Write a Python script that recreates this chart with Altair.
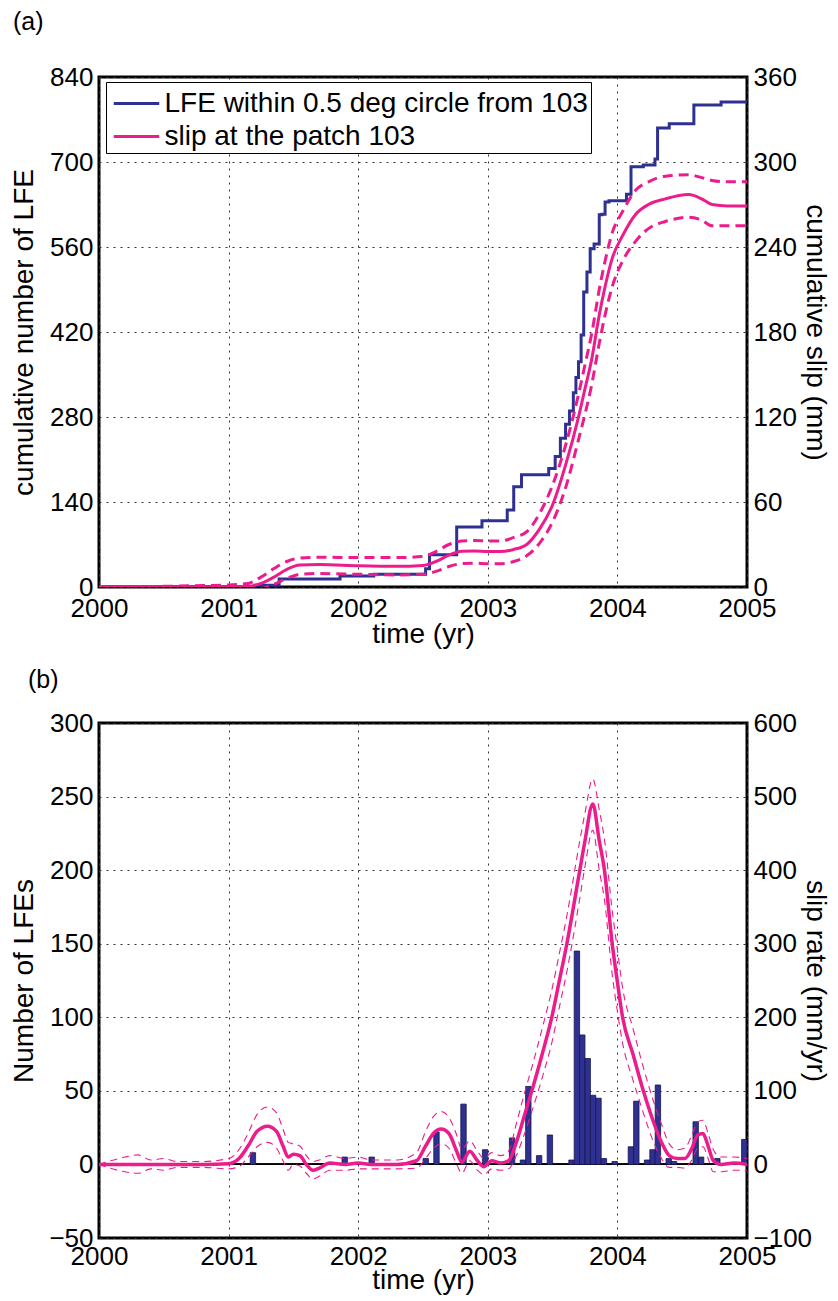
import altair as alt
import pandas as pd

BLUE = "#2E3192"
PINK = "#EC1C8C"
FONT = "Liberation Sans"

years = [2000, 2001, 2002, 2003, 2004, 2005]
ticks_a_left = [0, 140, 280, 420, 560, 700, 840]
ticks_a_right = [0, 60, 120, 180, 240, 300, 360]
ticks_b_left = [-50, 0, 50, 100, 150, 200, 250, 300]
ticks_b_right = [-100, 0, 100, 200, 300, 400, 500, 600]

LEG_LFE = "LFE within 0.5 deg circle from 103"
LEG_SLIP = "slip at the patch 103"

# ---- panel (a): cumulative LFE count (step) ----
lfe_t = [2000.0, 2001.20, 2001.39, 2001.86, 2002.12, 2002.52, 2002.55, 2002.76, 2002.955,
         2003.15, 2003.20, 2003.26, 2003.47, 2003.52, 2003.56, 2003.60, 2003.63, 2003.66,
         2003.68, 2003.70, 2003.72, 2003.74, 2003.765, 2003.79, 2003.82, 2003.86, 2003.88,
         2003.905, 2003.935, 2004.07, 2004.105, 2004.20, 2004.29, 2004.31, 2004.40, 2004.59,
         2004.80, 2005.0]
lfe_n = [0, 3, 13, 18, 21, 30, 53, 99, 109,
         127, 165, 185, 195, 215, 245, 268, 290, 320,
         345, 371, 415, 486, 519, 557, 565, 613, 614,
         634, 636, 647, 692, 695, 705, 756, 763, 794,
         799, 800]

# ---- panel (a): cumulative slip (mm) with bounds ----
slip_t = [2000.0, 2000.5, 2000.8, 2001.0, 2001.15, 2001.25, 2001.35, 2001.45, 2001.55, 2001.7,
          2002.0, 2002.3, 2002.5, 2002.6, 2002.7, 2002.8, 2002.9, 2003.0, 2003.1, 2003.2,
          2003.3, 2003.4, 2003.5, 2003.6, 2003.7, 2003.75, 2003.8, 2003.86, 2003.9, 2003.96,
          2004.04, 2004.14, 2004.24, 2004.37, 2004.55, 2004.65, 2004.73, 2004.85, 2005.0]
slip_mid = [0, 0, 0, 0, 0.5, 2.5, 7, 12.5, 15.5, 15.8,
            15, 14.6, 15.2, 18, 22.5, 25.2, 25.5, 25, 25, 26.5,
            30, 41, 58, 86, 120, 140, 160, 192, 210, 232,
            248, 263, 270, 274, 277, 274, 270, 269, 269]
slip_hi = [0, 0.5, 1, 1.5, 2.5, 7, 13, 18, 20.5, 21,
           20.8, 20.8, 21.5, 25, 30, 32.5, 32.8, 32.5, 32.5, 35,
           39, 52, 72, 100, 136, 157, 178, 210, 228, 250,
           265, 280, 286, 290, 291, 289, 287, 286, 286]
slip_lo = [0, 0, 0, 0, -0.5, -1, 2, 6, 9, 9.5,
           9, 8.5, 9, 11, 14.5, 16.5, 16.8, 16.5, 16.5, 18,
           22, 31, 46, 70, 104, 122, 142, 172, 190, 212,
           230, 244, 253, 258, 261, 259, 255, 255, 255]

# ---- panel (b): LFE counts per half-month bin ----
bar_t = [2001.021, 2001.1875, 2001.896, 2002.104, 2002.521, 2002.604, 2002.8125, 2002.979,
         2003.1875, 2003.271, 2003.3125, 2003.396, 2003.479, 2003.646, 2003.6875, 2003.729,
         2003.771, 2003.8125, 2003.854, 2003.896, 2003.979, 2004.104, 2004.146, 2004.229,
         2004.271, 2004.3125, 2004.396, 2004.437, 2004.604, 2004.646, 2004.771, 2004.979]
bar_n = [1, 8, 5, 5, 4, 22, 41, 10,
         18, 3, 53, 6, 20, 3, 145, 88,
         72, 47, 45, 4, 2, 12, 43, 3,
         10, 54, 4, 2, 29, 5, 4, 17]

# ---- panel (b): slip rate (mm/yr) with bounds ----
rate_t = [2000.00, 2000.20, 2000.30, 2000.40, 2000.50, 2000.60, 2000.80, 2001.00, 2001.08, 2001.15,
          2001.22, 2001.30, 2001.37, 2001.42, 2001.46, 2001.50, 2001.55, 2001.60, 2001.65, 2001.70,
          2001.78, 2001.90, 2002.00, 2002.10, 2002.30, 2002.45, 2002.52, 2002.58, 2002.64, 2002.70,
          2002.76, 2002.80, 2002.86, 2002.92, 2002.97, 2003.03, 2003.10, 2003.16, 2003.22, 2003.28,
          2003.34, 2003.42, 2003.50, 2003.55, 2003.61, 2003.71, 2003.75, 2003.81, 2003.86, 2003.90,
          2003.96, 2004.00, 2004.04, 2004.12, 2004.20, 2004.28, 2004.34, 2004.40, 2004.46, 2004.52,
          2004.57, 2004.62, 2004.66, 2004.70, 2004.74, 2004.80, 2004.90, 2005.00]
rate_mid = [0, 0, 0, 0, 0, 0, 0, 1, 8, 25,
            45, 52, 45, 25, 10, 14, 12, 0, -8, -5,
            2, 0, 2, 0, 0, 5, 25, 42, 48, 42,
            18, 3, 18, 5, -3, 5, 2, 5, 30, 65,
            100, 150, 205, 248, 300, 400, 440, 490, 440, 400,
            300, 248, 200, 150, 100, 57, 30, 12, 8, 8,
            20, 40, 42, 25, 5, 0, 2, 0]
rate_hi = [0, 10, 13, 6, 8, 4, 4, 8, 20, 42,
           68, 78, 70, 48, 30, 28, 25, 12, 4, 6,
           12, 8, 10, 6, 6, 16, 45, 65, 72, 64,
           40, 20, 32, 18, 8, 16, 12, 18, 55, 95,
           132, 185, 242, 285, 338, 440, 478, 524, 482, 442,
           345, 292, 240, 185, 132, 85, 55, 28, 20, 22,
           38, 58, 60, 42, 20, 10, 10, 8]
rate_lo = [0, -10, -12, -6, -8, -4, -4, -6, -3, 10,
           24, 30, 22, 5, -8, 0, -2, -12, -20, -16,
           -8, -8, -6, -6, -6, -5, 8, 22, 28, 22,
           0, -12, 5, -8, -14, -6, -8, -6, 12, 40,
           72, 118, 170, 212, 262, 362, 405, 454, 400, 360,
           258, 208, 165, 115, 70, 30, 8, -4, -4, -5,
           5, 22, 24, 8, -10, -10, -8, -8]

W = 648
HA = 510
HB = 515
FS = 26
TFS = 28

df_lfe = pd.DataFrame({"t": lfe_t, "n": lfe_n, "series": LEG_LFE})
df_slip_mid = pd.DataFrame({"t": slip_t, "v": slip_mid, "series": LEG_SLIP})
df_slip_dash = pd.concat([
    pd.DataFrame({"t": slip_t, "v": slip_hi, "kind": "hi"}),
    pd.DataFrame({"t": slip_t, "v": slip_lo, "kind": "lo"}),
])
df_bar = pd.DataFrame({"t": bar_t, "n": bar_n})
df_rate_mid = pd.DataFrame({"t": rate_t, "v": rate_mid})
df_rate_dash = pd.concat([
    pd.DataFrame({"t": rate_t, "v": rate_hi, "kind": "hi"}),
    pd.DataFrame({"t": rate_t, "v": rate_lo, "kind": "lo"}),
])

xscale = alt.Scale(domain=[2000, 2005], nice=False, zero=False)


def xaxis(title_y, pad):
    return alt.Axis(values=years, format="d", title="time (yr)", grid=True, labelFlush=False,
                    titleY=title_y, titleBaseline="middle", labelPadding=pad)


color_scale = alt.Scale(domain=[LEG_LFE, LEG_SLIP], range=[BLUE, PINK])
legend_a = alt.Legend(orient="none", legendX=7, legendY=5, title=None,
                      symbolType="M-1.3,0L1.3,0", symbolSize=1225, symbolStrokeWidth=3,
                      symbolOffset=9, labelFontSize=28, labelFont=FONT, labelOffset=9,
                      labelLimit=0, fillColor="white", strokeColor="black", padding=2.5,
                      rowPadding=-2, labelColor="black")

# ---------- panel a ----------
ya_left = alt.Y("n:Q", scale=alt.Scale(domain=[0, 840], nice=False),
                axis=alt.Axis(values=ticks_a_left, title="cumulative number of LFE", labelFlush=False,
                              orient="left", grid=True, titleX=-75, titleBaseline="middle"))
ya_right_axis = alt.Axis(values=ticks_a_right, title="cumulative slip (mm)", orient="right",
                         grid=False, titleX=67, titleBaseline="middle", labelFlush=False)
ya_right_scale = alt.Scale(domain=[0, 360], nice=False)

blue_a = alt.Chart(df_lfe).mark_line(interpolate="step-after", strokeWidth=3, clip=True).encode(
    x=alt.X("t:Q", scale=xscale, axis=xaxis(47, 8)),
    y=ya_left,
    color=alt.Color("series:N", scale=color_scale, legend=legend_a),
)
pink_a = alt.Chart(df_slip_mid).mark_line(interpolate="monotone", strokeWidth=3, clip=True).encode(
    x=alt.X("t:Q", scale=xscale),
    y=alt.Y("v:Q", scale=ya_right_scale, axis=ya_right_axis),
    color=alt.Color("series:N", scale=color_scale, legend=legend_a),
)
pink_a_dash = alt.Chart(df_slip_dash).mark_line(interpolate="monotone", strokeWidth=3,
                                                 strokeDash=[10, 6], clip=True).encode(
    x=alt.X("t:Q", scale=xscale),
    y=alt.Y("v:Q", scale=ya_right_scale, axis=ya_right_axis),
    detail="kind:N",
    color=alt.value(PINK),
)

panel_a = alt.layer(blue_a, alt.layer(pink_a_dash, pink_a)).resolve_scale(y="independent").properties(
    width=W, height=HA,
    title=alt.TitleParams("(a)", anchor="start", frame="bounds", offset=29, dx=3,
                          fontSize=25, font=FONT, fontWeight="normal", color="black"),
)

# ---------- panel b ----------
yb_left_scale = alt.Scale(domain=[-50, 300], nice=False)
yb_left_axis = alt.Axis(values=ticks_b_left, title="Number of LFEs", orient="left", grid=True,
                        titleX=-75, titleBaseline="middle", labelFlush=False)
yb_right_scale = alt.Scale(domain=[-100, 600], nice=False)
yb_right_axis = alt.Axis(values=ticks_b_right, title="slip rate (mm/yr)", orient="right",
                         grid=False, titleX=67, titleBaseline="middle", labelFlush=False)

bars = alt.Chart(df_bar).transform_calculate(
    t0="datum.t - 1/48", t1="datum.t + 1/48"
).mark_bar(color=BLUE, stroke="#15174a", strokeWidth=0.8).encode(
    x=alt.X("t0:Q", scale=xscale, axis=xaxis(42, 5)),
    x2="t1:Q",
    y=alt.Y("n:Q", scale=yb_left_scale, axis=yb_left_axis),
    y2=alt.datum(0),
)
zero_rule = alt.Chart(df_bar).mark_rule(color="black", strokeWidth=1).encode(
    y=alt.datum(0),
)
pink_b = alt.Chart(df_rate_mid).mark_line(interpolate="monotone", strokeWidth=3.5, clip=True,
                                          color=PINK).encode(
    x=alt.X("t:Q", scale=xscale),
    y=alt.Y("v:Q", scale=yb_right_scale, axis=yb_right_axis),
)
pink_b_dash = alt.Chart(df_rate_dash).mark_line(interpolate="monotone", strokeWidth=1.1,
                                                 strokeDash=[7, 5], clip=True, color=PINK).encode(
    x=alt.X("t:Q", scale=xscale),
    y=alt.Y("v:Q", scale=yb_right_scale, axis=yb_right_axis),
    detail="kind:N",
)

panel_b = alt.layer(alt.layer(zero_rule, bars), alt.layer(pink_b_dash, pink_b)).resolve_scale(
    y="independent").properties(
    width=W, height=HB,
    title=alt.TitleParams("(b)", anchor="start", frame="bounds", offset=17, dx=18,
                          fontSize=25, font=FONT, fontWeight="normal", color="black"),
)

chart = alt.vconcat(panel_a, panel_b, spacing=16).properties(
    padding={"left": 8, "top": 8, "right": 5, "bottom": 5}
).configure_view(stroke="black", strokeWidth=3).configure_axis(
    labelFont=FONT, labelFontSize=FS, titleFont=FONT, titleFontSize=TFS,
    titleFontWeight="normal", labelColor="black", titleColor="black",
    domain=False, ticks=False, tickSize=0, labelPadding=6,
    gridColor="#333333", gridDash=[2, 5], gridWidth=1, gridOpacity=1,
).configure_concat(spacing=16)

chart.save("out.html", embed_options={"renderer": "svg", "actions": False})
